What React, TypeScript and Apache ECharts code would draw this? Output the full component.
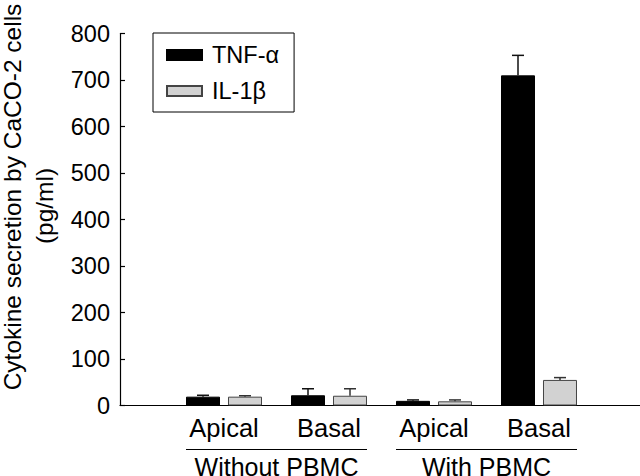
import React, { useEffect, useRef } from "react";
import * as echarts from "echarts";

const categories = ["Apical", "Basal", "Apical", "Basal"];
const groups = ["Without PBMC", "With PBMC"];
const groupSpans = [
  [0, 1],
  [2, 3],
];
const tnf = [19, 22, 10, 710];
const tnfErr = [3, 14, 2, 43];
const il1b = [19, 21, 9, 55];
const il1bErr = [2, 15, 3, 5];
const yMin = 0;
const yMax = 800;
const yInterval = 100;

const FONT = "'Liberation Sans', Arial, Helvetica, sans-serif";

export default function App() {
  const ref = useRef<HTMLDivElement>(null);

  useEffect(() => {
    if (!ref.current) return;
    const chart = echarts.init(ref.current, null, { renderer: "svg" });

    const errSeries = (name: string, vals: number[], errs: number[], offset: number, color: string) => ({
      type: "custom",
      name: name + " err",
      xAxisIndex: 0,
      yAxisIndex: 0,
      z: 5,
      silent: true,
      data: vals.map((v, i) => [i, v, errs[i]]),
      renderItem: (params: any, api: any) => {
        const x = api.value(0);
        const v = api.value(1);
        const e = api.value(2);
        const base = api.coord([x, v]);
        const top = api.coord([x, v + e]);
        const cx = base[0] + offset;
        return {
          type: "group",
          children: [
            { type: "line", shape: { x1: cx, y1: base[1], x2: cx, y2: top[1] }, style: { stroke: color, lineWidth: 1.5 } },
            { type: "line", shape: { x1: cx - 6, y1: top[1], x2: cx + 6, y2: top[1] }, style: { stroke: color, lineWidth: 1.5 } },
          ],
        };
      },
    });

    chart.setOption({
      animation: false,
      backgroundColor: "#fff",
      textStyle: { fontFamily: FONT },
      grid: [
        { left: 171.5, width: 420, top: 33.5, height: 372, containLabel: false, outerBoundsMode: "none" },
        { left: 120, right: 0, top: 33.5, height: 372, containLabel: false, outerBoundsMode: "none" },
      ],
      legend: {
        data: ["TNF-α", "IL-1β"],
        orient: "vertical",
        left: 153,
        top: 33,
        padding: [10, 15, 9, 13],
        itemGap: 12,
        itemWidth: 35,
        itemHeight: 10,
        icon: "rect",
        borderColor: "#000",
        borderWidth: 1,
        textStyle: { fontSize: 23.5, color: "#000", fontFamily: FONT, padding: [0, 0, 0, 5] },
      },
      xAxis: [
        {
          type: "category",
          gridIndex: 0,
          data: categories,
          axisLine: { show: false },
          axisTick: { show: false },
          axisLabel: { fontSize: 25.5, color: "#000", margin: 9, interval: 0, hideOverlap: false, fontFamily: FONT },
        },
        {
          type: "category",
          gridIndex: 0,
          position: "bottom",
          offset: 41,
          data: groups,
          axisLine: { show: false },
          axisTick: { show: false },
          axisLabel: { fontSize: 25, color: "#000", margin: 8, interval: 0, hideOverlap: false, fontFamily: FONT },
        },
        {
          type: "value",
          gridIndex: 1,
          min: 0,
          max: 1,
          axisLine: { show: true, onZero: false, lineStyle: { color: "#000", width: 1.2 } },
          axisTick: { show: false },
          axisLabel: { show: false },
          splitLine: { show: false },
        },
      ],
      yAxis: [
        {
          type: "value",
          gridIndex: 0,
          min: yMin,
          max: yMax,
          interval: yInterval,
          offset: 51.5,
          axisLine: { show: true, lineStyle: { color: "#000", width: 1.2 } },
          axisTick: { show: true, inside: true, length: 5, lineStyle: { color: "#000", width: 1.2 } },
          axisLabel: { fontSize: 23.5, color: "#000", margin: 10, fontFamily: FONT },
          splitLine: { show: false },
        },
        {
          type: "value",
          gridIndex: 1,
          min: 0,
          max: 1,
          show: false,
        },
      ],
      series: [
        {
          type: "bar",
          name: "TNF-α",
          xAxisIndex: 0,
          yAxisIndex: 0,
          data: tnf,
          barWidth: 34,
          barGap: "23.5%",
          itemStyle: { color: "#000", borderColor: "#000", borderWidth: 1 },
        },
        {
          type: "bar",
          name: "IL-1β",
          xAxisIndex: 0,
          yAxisIndex: 0,
          data: il1b,
          barWidth: 34,
          barGap: "23.5%",
          itemStyle: { color: "#d2d2d2", borderColor: "#444", borderWidth: 1 },
        },
        errSeries("TNF-α", tnf, tnfErr, -21, "#111"),
        errSeries("IL-1β", il1b, il1bErr, 21, "#333"),
      ],
    });

    // group bracket lines under the category labels, positioned via the axis scale
    const lines = groupSpans.map((span) => {
      const p0 = chart.convertToPixel({ xAxisIndex: 0, yAxisIndex: 0 }, [span[0], 0]) as number[];
      const p1 = chart.convertToPixel({ xAxisIndex: 0, yAxisIndex: 0 }, [span[1], 0]) as number[];
      const y = Math.round(p0[1] + 43) + 0.5;
      return {
        type: "rect",
        z: 100,
        shape: { x: p0[0] - 38, y: y - 0.6, width: p1[0] - p0[0] + 76, height: 1.2 },
        style: { fill: "#000" },
      };
    });

    chart.setOption({
      graphic: [
        {
          type: "text",
          x: 12,
          y: 197,
          rotation: Math.PI / 2,
          style: {
            text: "Cytokine secretion by CaCO-2 cells",
            fontSize: 24.5,
            fontFamily: FONT,
            fill: "#000",
            align: "center",
            verticalAlign: "middle",
          },
        },
        {
          type: "text",
          x: 44,
          y: 206,
          rotation: Math.PI / 2,
          style: {
            text: "(pg/ml)",
            fontSize: 24.5,
            fontFamily: FONT,
            fill: "#000",
            align: "center",
            verticalAlign: "middle",
          },
        },
        ...lines,
      ],
    });

    return () => chart.dispose();
  }, []);

  return (
    <div
      ref={ref}
      style={{ position: "fixed", left: 0, top: 0, width: 640, height: 476, background: "#fff" }}
    />
  );
}
